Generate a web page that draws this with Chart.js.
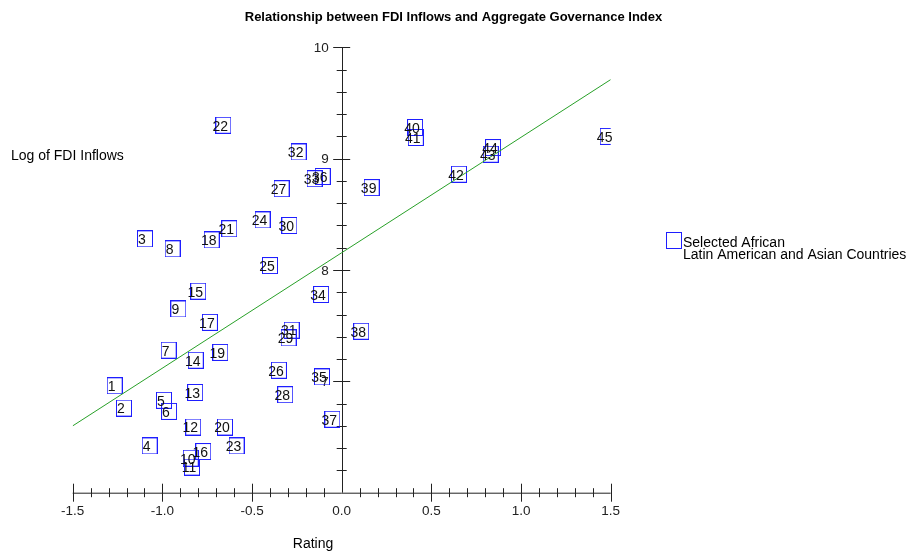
<!DOCTYPE html>
<html>
<head>
<meta charset="utf-8">
<script src="https://cdn.jsdelivr.net/npm/chart.js@4"></script>
<style>
  html, body { margin: 0; padding: 0; background: #fff; }
  #wrap { width: 907px; height: 552px; }
</style>
</head>
<body>
<div id="wrap"><canvas id="fdiChart" width="907" height="552"></canvas></div>
<script>
// country ids (label inside each square)
var countryIds = [1,2,3,4,5,6,7,8,9,10,11,12,13,14,15,16,17,18,19,20,21,22,23,24,25,26,27,28,29,30,31,32,33,34,35,36,37,38,39,40,41,42,43,44,45]
// aggregate governance rating
var rating = [-1.266,-1.214,-1.097,-1.071,-0.991,-0.963,-0.965,-0.943,-0.911,-0.842,-0.835,-0.828,-0.817,-0.814,-0.800,-0.772,-0.735,-0.725,-0.677,-0.651,-0.627,-0.660,-0.586,-0.441,-0.400,-0.350,-0.335,-0.315,-0.296,-0.292,-0.279,-0.240,-0.151,-0.115,-0.110,-0.106,-0.052,0.109,0.167,0.409,0.413,0.654,0.831,0.844,1.483]
// log of FDI inflows
var logFdi = [6.96,6.76,8.28,6.42,6.83,6.73,7.28,8.19,7.65,6.31,6.23,6.59,6.90,7.19,7.81,6.37,7.53,8.27,7.26,6.59,8.37,9.30,6.42,8.45,8.04,7.10,8.73,6.88,7.39,8.40,7.46,9.06,8.82,7.78,7.04,8.84,6.66,7.45,8.74,9.28,9.19,8.86,9.04,9.10,9.20]
// fitted line end points
var fitX = [-1.5, 1.5]
var fitY = [6.6, 9.71]
// tick labels
var xTickLabels = [-1.5, -1.0, -0.5, 0.0, 0.5, 1.0, 1.5]
var yTickLabels = [7, 8, 9, 10]

var FONT = '"Liberation Sans", Arial, Helvetica, sans-serif'
var BLUE = 'rgb(30,30,255)'

var points = rating.map(function(r, i){ return {x: r, y: logFdi[i]} })
var fitLine = fitX.map(function(v, i){ return {x: v, y: fitY[i]} })

// hollow box marker, a little taller than wide
var box = document.createElement('canvas')
box.width = 16
box.height = 17
var bctx = box.getContext('2d')
bctx.strokeStyle = BLUE
bctx.lineWidth = 1
bctx.strokeRect(0.5, 0.5, 15, 16)

// axes crossing at rating 0, ticks on both sides
var axesPlugin = {
  id: 'axesPlugin',
  beforeDatasetsDraw: function(chart){
    var ctx = chart.ctx
    var xs = chart.scales.x, ys = chart.scales.y
    var x0 = xs.getPixelForValue(0)
    var yBase = ys.getPixelForValue(6)
    ctx.save()
    ctx.strokeStyle = '#222'
    ctx.lineWidth = 1
    ctx.beginPath()
    ctx.moveTo(xs.getPixelForValue(-1.5), yBase + 0.5)
    ctx.lineTo(xs.getPixelForValue(1.5), yBase + 0.5)
    ctx.moveTo(Math.round(x0) + 0.5, ys.getPixelForValue(10))
    ctx.lineTo(Math.round(x0) + 0.5, yBase)
    // x ticks every 0.1 (none at 0, where the y axis stands)
    for (var i = -15; i <= 15; i++){
      if (i == 0) continue
      var px = Math.round(xs.getPixelForValue(i / 10)) + 0.5
      var len = (i % 5 == 0) ? 9 : 4.5
      ctx.moveTo(px, yBase - len)
      ctx.lineTo(px, yBase + len)
    }
    // y ticks every 0.2
    for (var j = 31; j <= 50; j++){
      var py = Math.round(ys.getPixelForValue(j / 5)) + 0.5
      var l2 = (j % 5 == 0) ? 8.5 : 5
      ctx.moveTo(x0 - l2, py)
      ctx.lineTo(x0 + l2, py)
    }
    ctx.stroke()

    ctx.fillStyle = '#222'
    ctx.font = '13.5px ' + FONT
    ctx.textAlign = 'center'
    ctx.textBaseline = 'middle'
    xTickLabels.forEach(function(v){
      ctx.fillText(v.toFixed(1), xs.getPixelForValue(v), yBase + 19)
    })
    ctx.textAlign = 'right'
    yTickLabels.forEach(function(v){
      ctx.fillText(String(v), x0 - 13, ys.getPixelForValue(v) + 1)
    })
    ctx.restore()
  },
  afterDatasetsDraw: function(chart){
    var ctx = chart.ctx
    var meta = chart.getDatasetMeta(1)
    ctx.save()
    ctx.fillStyle = '#111'
    ctx.font = '14px ' + FONT
    ctx.textAlign = 'center'
    ctx.textBaseline = 'middle'
    meta.data.forEach(function(el, i){
      ctx.fillText(String(countryIds[i]), el.x - 3, el.y + 1.5)
    })

    // titles
    ctx.fillStyle = '#000'
    ctx.font = 'bold 13px ' + FONT
    ctx.fillText('Relationship between FDI Inflows and Aggregate Governance Index', 453.5, 17)
    ctx.font = '14px ' + FONT
    ctx.fillText('Rating', 313, 544)
    ctx.textAlign = 'left'
    ctx.fillText('Log of FDI Inflows', 11, 156)

    // legend
    ctx.drawImage(box, 666, 232)
    ctx.fillStyle = '#000'
    ctx.font = '14px ' + FONT
    ctx.fillText('Selected African', 683, 243)
    ctx.fillText('Latin American and Asian Countries', 683, 255)
    ctx.restore()
  }
}

var ctx = document.getElementById('fdiChart').getContext('2d');
var myChart = new Chart(ctx, {
  type: 'scatter',
  plugins: [axesPlugin],
  data: {
    datasets: [{
      type: 'line',
      data: fitLine,
      borderColor: 'rgb(40,160,40)',
      borderWidth: 1,
      pointRadius: 0,
      fill: false,
    },
    {
      data: points,
      pointStyle: box,
      pointRadius: 8,
    }],
  },
  options: {
    responsive: false,
    animation: false,
    layout: {
      padding: {left: 72.7, right: 296.3, top: 47.3, bottom: 59.3}
    },
    scales: {
      x: {
        type: 'linear',
        display: false,
        min: -1.5,
        max: 1.5,
      },
      y: {
        type: 'linear',
        display: false,
        min: 6,
        max: 10,
      }
    },
    plugins: {
      legend: { display: false },
      title: { display: false },
      tooltip: { enabled: false },
    }
  },
});
</script>
</body>
</html>
